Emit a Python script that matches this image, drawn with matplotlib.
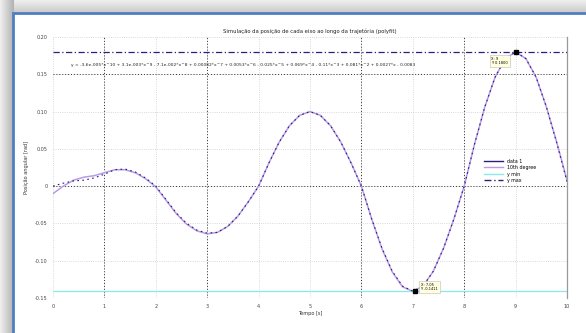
import numpy as np
import matplotlib.pyplot as plt
from matplotlib.patches import Rectangle
from matplotlib.lines import Line2D

# time samples and measured data (data 1)
t = [0.0, 0.2, 0.4, 0.6, 0.8, 1.0, 1.2, 1.4, 1.6, 1.8,
     2.0, 2.2, 2.4, 2.6, 2.8, 3.0, 3.2, 3.4, 3.6, 3.8,
     4.0, 4.2, 4.4, 4.6, 4.8, 5.0, 5.2, 5.4, 5.6, 5.8,
     6.0, 6.2, 6.4, 6.6, 6.8, 7.0, 7.2, 7.4, 7.6, 7.8,
     8.0, 8.2, 8.4, 8.6, 8.8, 9.0, 9.2, 9.4, 9.6, 9.8, 10.0]
data1 = [0.000, 0.004, 0.007, 0.008, 0.011, 0.016, 0.022, 0.023, 0.019, 0.011,
         0.000, -0.018, -0.036, -0.050, -0.059, -0.063, -0.062, -0.054, -0.040, -0.021,
         0.000, 0.031, 0.059, 0.081, 0.095, 0.100, 0.095, 0.081, 0.059, 0.031,
         0.000, -0.044, -0.083, -0.114, -0.134, -0.141, -0.134, -0.114, -0.083, -0.044,
         0.000, 0.056, 0.106, 0.146, 0.171, 0.180, 0.171, 0.146, 0.106, 0.058, 0.006]
# 10th degree fit
fit10 = [-0.010, 0.000, 0.008, 0.012, 0.014, 0.018, 0.022, 0.022, 0.018, 0.010,
         -0.001, -0.019, -0.037, -0.051, -0.060, -0.064, -0.062, -0.054, -0.040, -0.021,
         0.000, 0.031, 0.059, 0.081, 0.095, 0.100, 0.095, 0.081, 0.059, 0.031,
         0.000, -0.044, -0.084, -0.115, -0.135, -0.141, -0.134, -0.114, -0.083, -0.044,
         0.000, 0.056, 0.106, 0.146, 0.171, 0.180, 0.171, 0.146, 0.106, 0.059, 0.008]
y_min = -0.141
y_max = 0.180
tip_min = (7.05, -0.1411)
tip_max = (9.0, 0.18)
xticks = list(range(0, 11))
yticks = [-0.15, -0.10, -0.05, 0, 0.05, 0.10, 0.15, 0.20]
ylabels = ['-0.15', '-0.10', '-0.05', '0', '0.05', '0.10', '0.15', '0.20']
major_x = [1, 3, 6, 8]
major_y = [0, 0.15]

equation = ('y = -3.6e-005*x^10 + 3.1e-003*x^9 - 7.1e-002*x^8 + 0.00082*x^7 '
            '+ 0.0053*x^6 - 0.025*x^5 + 0.069*x^4 - 0.11*x^3 + 0.081*x^2 '
            '+ 0.0027*x - 0.0083')

NAVY = '#2a1f7a'
LAVENDER = '#b99ae6'
CYAN = '#8ae8ea'

fig = plt.figure(figsize=(5.86, 3.33), dpi=100)
fig.patch.set_facecolor('#d9d9d9')

# window background: grey shadow gradient + white panel with blue border
bg = fig.add_axes([0, 0, 1, 1], zorder=-5)
bg.axis('off')
shade_top = np.linspace(0.93, 0.78, 14)[:, None] * np.ones((14, 586))
bg.imshow(shade_top, cmap='gray', vmin=0, vmax=1, extent=(0, 586, 14, 0),
          aspect='auto')
shade_left = np.ones((333, 14)) * np.linspace(0.93, 0.70, 14)[None, :]
bg.imshow(shade_left, cmap='gray', vmin=0, vmax=1, extent=(0, 14, 333, 0),
          aspect='auto')
bg.add_patch(Rectangle((13, 13), 600, 340, facecolor='white',
                       edgecolor='#4f7fc0', lw=2))
bg.set_xlim(0, 586)
bg.set_ylim(333, 0)

ax = fig.add_axes([53 / 586, 1 - 298 / 333, 514 / 586, 261 / 333])
ax.set_facecolor('white')

for x in xticks:
    ax.axvline(x, color='#cccccc', ls=':', lw=0.6, zorder=0)
for y in yticks:
    ax.axhline(y, color='#cccccc', ls=':', lw=0.6, zorder=0)
for x in major_x:
    ax.axvline(x, color='#333333', ls=(0, (1, 2)), lw=0.7, zorder=1)
for y in major_y:
    ax.axhline(y, color='#333333', ls=(0, (1, 2)), lw=0.7, zorder=1)

ax.plot(t, fit10, color=LAVENDER, lw=1.1, zorder=2)
ax.plot(t, data1, color=NAVY, lw=0.8, ls=(0, (1.5, 3)), zorder=3)
ax.axhline(y_min, color=CYAN, lw=0.9, zorder=2)
ax.axhline(y_max, color=NAVY, lw=0.9, ls=(0, (5, 2, 1, 2)), zorder=2)

# data tips
for (px, py), dx, dy in [(tip_max, -0.47, -0.012), (tip_min, 0.1, 0.006)]:
    ax.plot(px, py, 's', color='black', ms=2.5, zorder=5)
    ax.text(px + dx, py + dy, 'X: %g\nY: %.4f' % (px, py), fontsize=2.6,
            ha='left', va='center', zorder=6,
            bbox=dict(boxstyle='square,pad=0.4', fc='#ffffe0', ec='#bbbbbb',
                      lw=0.4))

ax.text(0.35, 0.163, equation, fontsize=3.2, color='#222222', va='center')

ax.set_xlim(0, 10)
ax.set_ylim(-0.15, 0.20)
ax.set_xticks(xticks)
ax.set_yticks(yticks)
ax.set_yticklabels(ylabels)
ax.tick_params(labelsize=3.5, length=0, pad=4, colors='#444444')
for s in ['top', 'left', 'bottom']:
    ax.spines[s].set_visible(False)
ax.spines['right'].set_color('#999999')
ax.spines['right'].set_linewidth(0.9)

ax.set_title('Simulação da posição de cada eixo ao longo da trajetória (polyfit)',
             fontsize=3.8, pad=3, color='#222222')
ax.set_xlabel('Tempo [s]', fontsize=3.6, labelpad=2, color='#333333')
ax.set_ylabel('Posição angular [rad]', fontsize=3.6, labelpad=4,
              color='#333333')

handles = [Line2D([], [], color=NAVY, lw=1.0),
           Line2D([], [], color=LAVENDER, lw=1.0),
           Line2D([], [], color=CYAN, lw=1.0),
           Line2D([], [], color=NAVY, lw=1.0, ls=(0, (5, 2, 1, 2)))]
labels = ['data 1', '10th degree', 'y min', 'y max']
leg = ax.legend(handles, labels, loc='upper left', bbox_to_anchor=(0.83, 0.55),
                fontsize=3.4, frameon=False, handlelength=4, labelspacing=0.3)

fig.savefig('out.png', dpi=100)
